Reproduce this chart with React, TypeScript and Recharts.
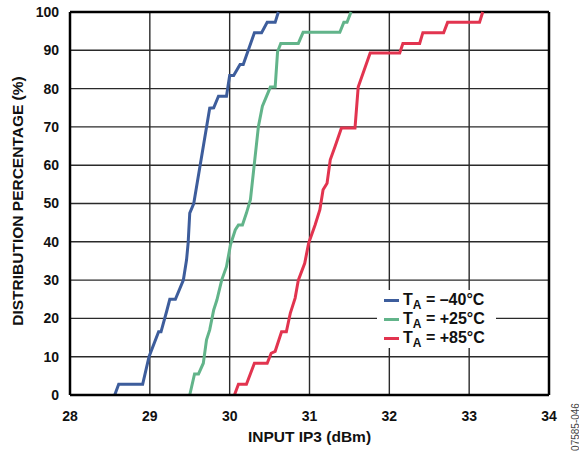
import {
  LineChart, Line, XAxis, YAxis, CartesianGrid, ReferenceLine, Legend,
} from "recharts";

// ─── Data ─────────────────────────────────────────────────────────────────────

const X_TICKS = [28, 29, 30, 31, 32, 33, 34];
const Y_TICKS = [0, 10, 20, 30, 40, 50, 60, 70, 80, 90, 100];

const COLD_X = [28.56, 28.61, 28.91, 28.99, 29.11, 29.14, 29.21, 29.25, 29.32, 29.42, 29.46, 29.48, 29.5, 29.55, 29.75, 29.8, 29.86, 29.96, 30.0, 30.05, 30.13, 30.17, 30.31, 30.4, 30.47, 30.57, 30.61];
const COLD_Y = [0, 2.8, 2.8, 10, 16.5, 16.5, 21.8, 25, 25, 30, 35.3, 39.7, 47.5, 50, 74.9, 75, 78, 78, 83.4, 83.4, 86.3, 86.3, 94.6, 94.6, 97.3, 97.3, 100];

const ROOM_X = [29.5, 29.56, 29.61, 29.67, 29.71, 29.75, 29.8, 29.84, 29.9, 29.96, 30.01, 30.07, 30.11, 30.16, 30.21, 30.26, 30.36, 30.41, 30.51, 30.57, 30.6, 30.64, 30.86, 30.92, 31.38, 31.43, 31.47, 31.52];
const ROOM_Y = [0, 5.5, 5.5, 8.3, 14.4, 17, 22.2, 24.8, 30, 33.5, 39.2, 43.1, 44.4, 44.4, 47.5, 51, 70.1, 75.4, 80.4, 80.4, 89.6, 91.8, 91.8, 94.7, 94.7, 97.3, 97.3, 100];

const HOT_X = [30.06, 30.11, 30.21, 30.31, 30.47, 30.52, 30.57, 30.65, 30.71, 30.76, 30.82, 30.86, 30.94, 30.99, 31.07, 31.13, 31.17, 31.22, 31.26, 31.32, 31.4, 31.57, 31.61, 31.76, 32.13, 32.17, 32.38, 32.42, 32.68, 32.73, 33.13, 33.17];
const HOT_Y = [0, 2.8, 2.8, 8.3, 8.3, 10.9, 11.4, 16.5, 16.5, 21.4, 25.3, 30, 34.4, 39.7, 44.4, 48.4, 53.6, 55.3, 61.4, 64.9, 69.7, 69.7, 80.4, 89.3, 89.3, 91.8, 91.8, 94.6, 94.6, 97.3, 97.3, 100];

const zip = (xs: number[], ys: number[]) => xs.map((x, i) => ({ x, y: ys[i] }));

const SERIES = [
  { name: "–40°C", color: "#3d5d9c", data: zip(COLD_X, COLD_Y) },
  { name: "+25°C", color: "#62b48a", data: zip(ROOM_X, ROOM_Y) },
  { name: "+85°C", color: "#e2344f", data: zip(HOT_X, HOT_Y) },
];

const FONT = "'Liberation Sans', Arial, sans-serif";

// ─── Legend ───────────────────────────────────────────────────────────────────

function TempLegend() {
  return (
    <div style={{ background: "#fff", paddingTop: 1, fontFamily: FONT }}>
      {SERIES.map((s) => (
        <div
          key={s.name}
          style={{ display: "flex", alignItems: "center", height: 19, lineHeight: "19px" }}
        >
          <div style={{ width: 15, height: 3, background: s.color, marginLeft: 7, marginRight: 4 }} />
          <span style={{ fontSize: 16, fontWeight: "bold", color: "#111", whiteSpace: "nowrap" }}>
            T
            <span style={{ fontSize: 12, position: "relative", top: 4 }}>A</span>
            {" = "}
            {s.name}
          </span>
        </div>
      ))}
    </div>
  );
}

// ─── Y label ──────────────────────────────────────────────────────────────────

function YTitle({ viewBox }: any) {
  const x = viewBox.x + 17;
  const y = 201;
  return (
    <text
      x={x}
      y={y}
      transform={`rotate(-90, ${x}, ${y})`}
      textAnchor="middle"
      dominantBaseline="central"
      fontFamily={FONT}
      fontWeight="bold"
      fontSize={15.5}
      fill="#111"
    >
      DISTRIBUTION PERCENTAGE (%)
    </text>
  );
}

// ─── Chart ────────────────────────────────────────────────────────────────────

export default function App() {
  const tick = { fontFamily: FONT, fontWeight: "bold", fontSize: 14, fill: "#111" };

  return (
    <div style={{ position: "absolute", left: 0, top: 0, width: 579, height: 451, background: "#fff" }}>
      <LineChart width={579} height={451} margin={{ top: 12, right: 30, bottom: 0, left: 0 }}>
        <CartesianGrid stroke="#2a2a2a" strokeWidth={1.4} />
        <XAxis
          type="number"
          dataKey="x"
          domain={[28, 34]}
          ticks={X_TICKS}
          allowDataOverflow
          height={56}
          tickLine={false}
          tickMargin={10}
          tick={tick}
          axisLine={{ stroke: "#000", strokeWidth: 2.5 }}
          label={{
            value: "INPUT IP3 (dBm)",
            position: "insideBottom",
            offset: 9,
            style: { fontFamily: FONT, fontWeight: "bold", fontSize: 15.5, fill: "#111" },
          }}
        />
        <YAxis
          type="number"
          dataKey="y"
          domain={[0, 100]}
          ticks={Y_TICKS}
          width={70}
          tickLine={false}
          tickMargin={5}
          tick={tick}
          axisLine={{ stroke: "#000", strokeWidth: 2.5 }}
          label={<YTitle />}
        />
        <ReferenceLine y={100} stroke="#000" strokeWidth={2.5} />
        <ReferenceLine x={34} stroke="#000" strokeWidth={2.5} />
        {SERIES.map((s) => (
          <Line
            key={s.name}
            data={s.data}
            dataKey="y"
            name={s.name}
            type="linear"
            stroke={s.color}
            strokeWidth={3}
            dot={false}
            activeDot={false}
            isAnimationActive={false}
          />
        ))}
        <Legend
          layout="vertical"
          align="center"
          verticalAlign="middle"
          content={() => <TempLegend />}
          wrapperStyle={{ left: 377, top: 290, width: 119, height: 62 }}
        />
      </LineChart>
      <div
        style={{
          position: "absolute",
          left: 575,
          top: 427,
          transform: "translate(-50%, -50%) rotate(-90deg)",
          fontFamily: FONT,
          fontSize: 10,
          color: "#444",
          whiteSpace: "nowrap",
        }}
      >
        07585-046
      </div>
    </div>
  );
}
